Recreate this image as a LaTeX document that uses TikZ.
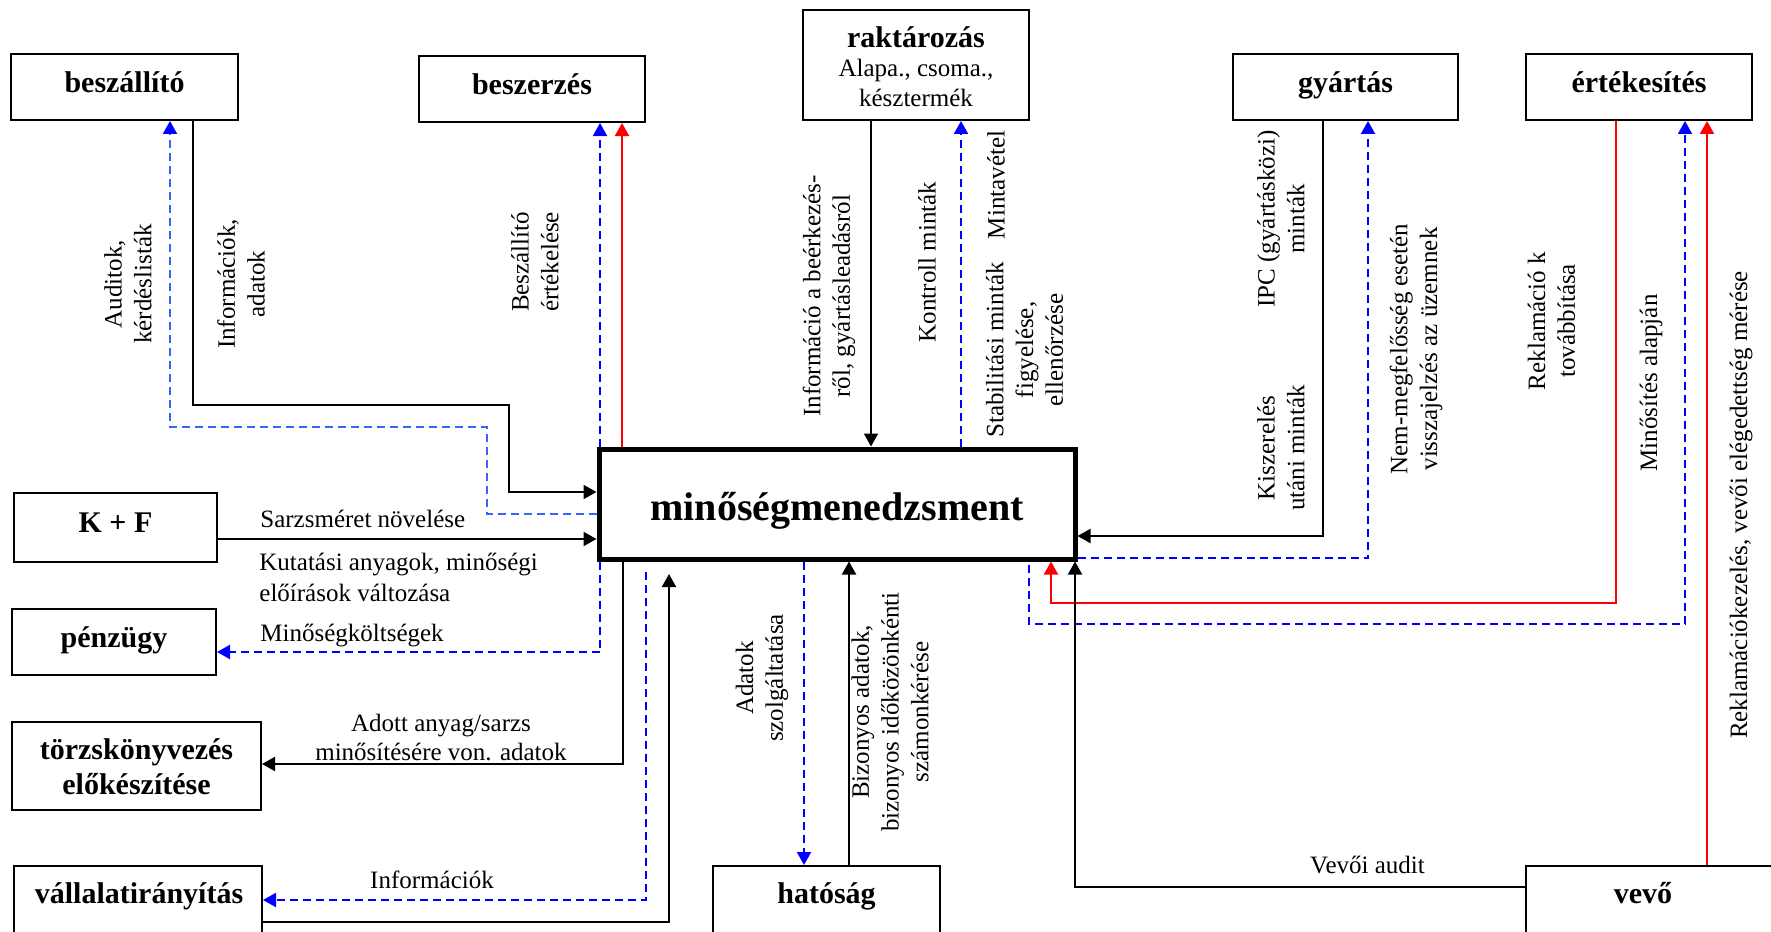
\documentclass[tikz,border=0pt]{standalone}
\usepackage{fontspec}
\setmainfont{Liberation Serif}
\usetikzlibrary{arrows.meta}
\definecolor{lblue}{RGB}{51,102,255}
\newcommand{\nf}{\fontsize{12.5}{14.85}\selectfont}
\newcommand{\boxfont}{\fontsize{15}{17.5}\selectfont\bfseries}
\newcommand{\bigfont}{\fontsize{20}{24}\selectfont\bfseries}
\begin{document}
\begin{tikzpicture}[x=0.5pt,y=-0.5pt,
 box/.style={draw, line width=1pt, inner sep=0pt, font=\boxfont, text height=8.25pt, text depth=3pt},
 ebox/.style={draw, line width=1pt, inner sep=0pt},
 txt/.style={inner sep=0pt, font=\nf},
 btxt/.style={inner sep=0pt, font=\boxfont},
 rot/.style={txt, rotate=90, align=center},
 tip/.style={-{Triangle[length=6.5pt,width=7pt]}},
 kline/.style={tip, line width=1pt, black},
 rline/.style={tip, line width=1pt, red},
 bline/.style={tip, line width=1pt, blue, dash pattern=on 4pt off 2.5pt},
]
\useasboundingbox (0,0) rectangle (1771,931);

% boxes
\node[box, minimum width=113.5pt, minimum height=33pt] (beszallito) at (124.5,87) {beszállító};
\node[box, minimum width=113pt, minimum height=33pt] (beszerzes) at (532,89) {beszerzés};
\node[ebox, minimum width=113pt, minimum height=55pt] (raktar) at (916,65) {};
\node[box, minimum width=112.5pt, minimum height=33pt] (gyartas) at (1345.5,87) {gyártás};
\node[box, minimum width=113pt, minimum height=33pt] (ertek) at (1639,87) {értékesítés};
\node[draw, line width=2.5pt, inner sep=0pt, font=\bigfont, text height=20pt, text depth=4pt,
      minimum width=238pt, minimum height=55pt] (qm) at (837,504) {minőségmenedzsment};
\node[box, minimum width=101.5pt, minimum height=34.5pt] (kf) at (115.5,527.5) {K + F};
\node[box, minimum width=102pt, minimum height=33pt] (penz) at (114,642) {pénzügy};
\node[ebox, minimum width=124.5pt, minimum height=44pt] (torzs) at (136.5,766) {};
\node[ebox, minimum width=124pt, minimum height=40pt] (vall) at (138,906) {};
\node[ebox, minimum width=113.5pt, minimum height=40pt] (hatosag) at (826.5,906) {};
\node[ebox, minimum width=137pt, minimum height=40pt] (vevo) at (1663,906) {};

% box texts
\node[btxt, anchor=base] (raktart1) at (916,47.7) {raktározás};
\node[txt, anchor=base] (raktart2) at (916,76.7) {Alapa., csoma.,};
\node[txt, anchor=base] (raktart3) at (916,106) {késztermék};
\node[btxt, anchor=base] (torzst1) at (136.5,759) {törzskönyvezés};
\node[btxt, anchor=base] (torzst2) at (136.5,794) {előkészítése};
\node[btxt, anchor=base] (vallt) at (139,903) {vállalatirányítás};
\node[btxt, anchor=base] (hatosagt) at (826.5,903) {hatóság};
\node[btxt, anchor=base] (vevot) at (1643,903) {vevő};

% free-end coordinates
\coordinate (c1) at (646,572);
\coordinate (c2) at (669,574);
\coordinate (c3) at (1029,565);

% connectors
\draw[bline, color=lblue, -{Triangle[length=6.5pt,width=7pt,color=blue]}] (qm.west |- 0,514) -| (487,427) -| (beszallito.south -| 170,0);
\draw[kline] (beszallito.south -| 193,0) |- (509,405) |- (qm.west |- 0,492);
\draw[bline] (qm.north -| 600,0) -- (beszerzes.south -| 600,0);
\draw[rline] (qm.north -| 622,0) -- (beszerzes.south -| 622,0);
\draw[kline] (raktar.south -| 871,0) -- (qm.north -| 871,0);
\draw[bline] (qm.north -| 961,0) -- (raktar.south -| 961,0);
\draw[kline] (gyartas.south -| 1323,0) |- (qm.east |- 0,536);
\draw[bline] (qm.east |- 0,558) -| (gyartas.south -| 1368,0);
\draw[rline] (ertek.south -| 1616,0) |- (1051,603) -- (qm.south -| 1051,0);
\draw[bline] (c3) |- (1685,624) -- (ertek.south -| 1685,0);
\draw[rline] (vevo.north -| 1707,0) -- (ertek.south -| 1707,0);
\draw[kline] (vevo.west |- 0,887) -| (qm.south -| 1075,0);
\draw[kline] (hatosag.north -| 849,0) -- (qm.south -| 849,0);
\draw[bline] (qm.south -| 804,0) -- (hatosag.north -| 804,0);
\draw[kline] (kf.east |- 0,539) -- (qm.west |- 0,539);
\draw[bline] (qm.south -| 600,0) |- (penz.east |- 0,652);
\draw[kline] (qm.south -| 623,0) |- (torzs.east |- 0,764);
\draw[bline] (c1) |- (vall.east |- 0,900);
\draw[kline] (vall.east |- 0,922) -| (c2);

% horizontal labels
\node[txt, anchor=base west] (l1) at (260,527) {Sarzsméret növelése};
\node[txt, anchor=base west] (l2) at (259,570) {Kutatási anyagok, minőségi};
\node[txt, anchor=base west] (l3) at (259,601) {előírások változása};
\node[txt, anchor=base west] (l4) at (260,641) {Minőségköltségek};
\node[txt, anchor=base] (l5) at (441,731) {Adott anyag/sarzs};
\node[txt, anchor=base] (l6) at (441,760) {minősítésére von. adatok};
\node[txt, anchor=base] (l7) at (432,888) {Információk};
\node[txt, anchor=base] (l8) at (1367.5,873) {Vevői audit};

% rotated labels
\node[rot] (r1) at (128,284) {Auditok,\\kérdéslisták};
\node[rot] (r2) at (241,284) {Információk,\\adatok};
\node[rot] (r3) at (535,262) {Beszállító\\értékelése};
\node[rot] (r4) at (829,296) {Információ a beérkezés-\\ről, gyártásleadásról};
\node[rot] (r5) at (927,262) {Kontroll minták};
\node[rot] (r6) at (996,185) {Mintavétel};
\node[rot] (r7) at (1024.5,350) {Stabilitási minták\\figyelése,\\ellenőrzése};
\node[rot] (r8) at (1281,219) {IPC (gyártásközi)\\minták};
\node[rot] (r9) at (1281,448) {Kiszerelés\\utáni minták};
\node[rot] (r10) at (1416,349) {Nem-megfelősség esetén\\visszajelzés az üzemnek};
\node[rot] (r11) at (1551.5,321) {Reklamáció k\\továbbítása};
\node[rot] (r12) at (1651,383) {Minősítés alapján};
\node[rot] (r13) at (1741,505) {Reklamációkezelés, vevői elégedettség mérése};
\node[rot] (r14) at (762,678) {Adatok\\szolgáltatása};
\node[rot] (r15) at (890,712) {Bizonyos adatok,\\bizonyos időközönkénti\\számonkérése};
\end{tikzpicture}
\end{document}
